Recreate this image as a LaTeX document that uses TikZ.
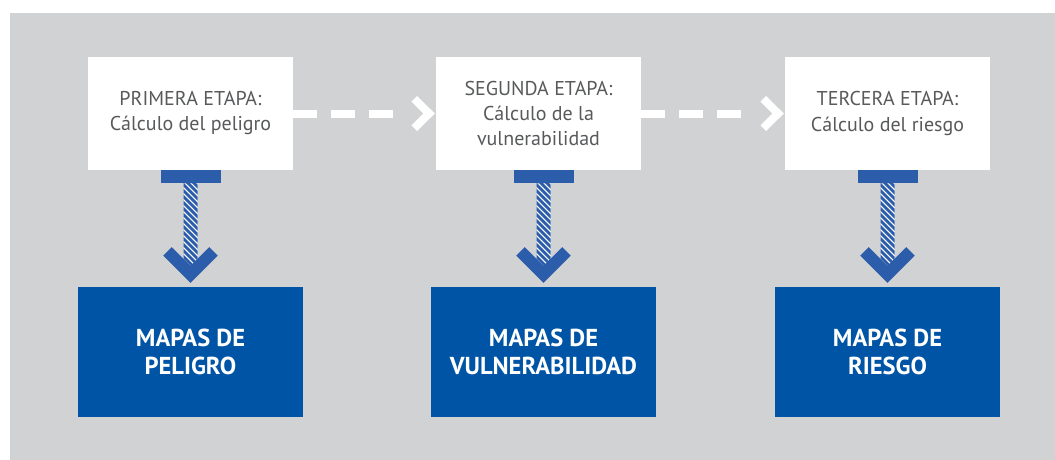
\documentclass[tikz,border=0pt]{standalone}
\usepackage{fontspec}
\setmainfont{PT Sans}
\usetikzlibrary{calc}
\definecolor{bggray}{HTML}{D1D2D4}
\definecolor{boxblue}{HTML}{0054A5}
\definecolor{arrblue}{HTML}{2B5DAA}
\definecolor{txtgray}{HTML}{58595B}
\tikzset{
  stage/.style={fill=white, minimum width=205pt, minimum height=113pt, inner sep=0pt,
    align=center, text=txtgray, font=\fontsize{20}{25}\selectfont},
  mapbox/.style={fill=boxblue, minimum width=225pt, minimum height=130pt, inner sep=0pt,
    align=center, text=white, font=\bfseries\fontsize{24.5}{28}\selectfont},
  topbar/.style={fill=arrblue, minimum width=60pt, minimum height=13pt, inner sep=0pt},
  dashconn/.style={draw=white, line width=8pt, dash pattern=on 24pt off 14pt},
  chevw/.style={draw=white, line width=8pt, miter limit=10},
  chevb/.style={draw=arrblue, line width=12pt, miter limit=10},
  stripe/.style={draw=arrblue, line width=2.8pt}
}
\begin{document}
\begin{tikzpicture}[x=1pt,y=-1pt]
\useasboundingbox (0,0) rectangle (1055,460);
\fill[bggray] (10,13) rectangle (1055,460);

\node[stage] (s1) at (190.5,113.5) {PRIMERA ETAPA:\\Cálculo del peligro};
\node[stage] (s2) at (538.5,113.5) {SEGUNDA ETAPA:\\Cálculo de la\\vulnerabilidad};
\node[stage] (s3) at (887.5,113.5) {TERCERA ETAPA:\\Cálculo del riesgo};

\node[mapbox] (m1) at (190.5,352) {MAPAS DE\\PELIGRO};
\node[mapbox] (m2) at (543.5,352) {MAPAS DE\\VULNERABILIDAD};
\node[mapbox] (m3) at (887.5,352) {MAPAS DE\\RIESGO};

% dashed connectors
\draw[dashconn] (s1.east) -- ($(s2.west)+(-43,0)$);
\draw[chevw] ($(s2.west)+(-21.5,-14.7)$) -- ($(s2.west)+(-6.7,0)$) -- ($(s2.west)+(-21.5,14.7)$);
\draw[dashconn] (s2.east) -- ($(s3.west)+(-43,0)$);
\draw[chevw] ($(s3.west)+(-21.5,-14.7)$) -- ($(s3.west)+(-6.7,0)$) -- ($(s3.west)+(-21.5,14.7)$);

% downward hatched arrows
\foreach \i in {1,2,3}{
  \node[topbar, anchor=north] (b\i) at (s\i.south -| m\i.north) {};
  \coordinate (v\i) at ($(m\i.north)+(0,-12.5)$);
  \begin{scope}
    \clip ($(b\i.south)+(-7,0)$) rectangle ($(v\i)+(7,-6)$);
    \fill[white] ($(b\i.south)+(-7,0)$) rectangle ($(v\i)+(7,-6)$);
    \foreach \k in {0,...,16}{
      \draw[stripe] ($(b\i.south)+(-10,\k*6-14)$) -- ++(20,20);
    }
  \end{scope}
  \draw[chevb] ($(v\i)+(-23,-23)$) -- (v\i) -- ($(v\i)+(23,-23)$);
}
\end{tikzpicture}
\end{document}
